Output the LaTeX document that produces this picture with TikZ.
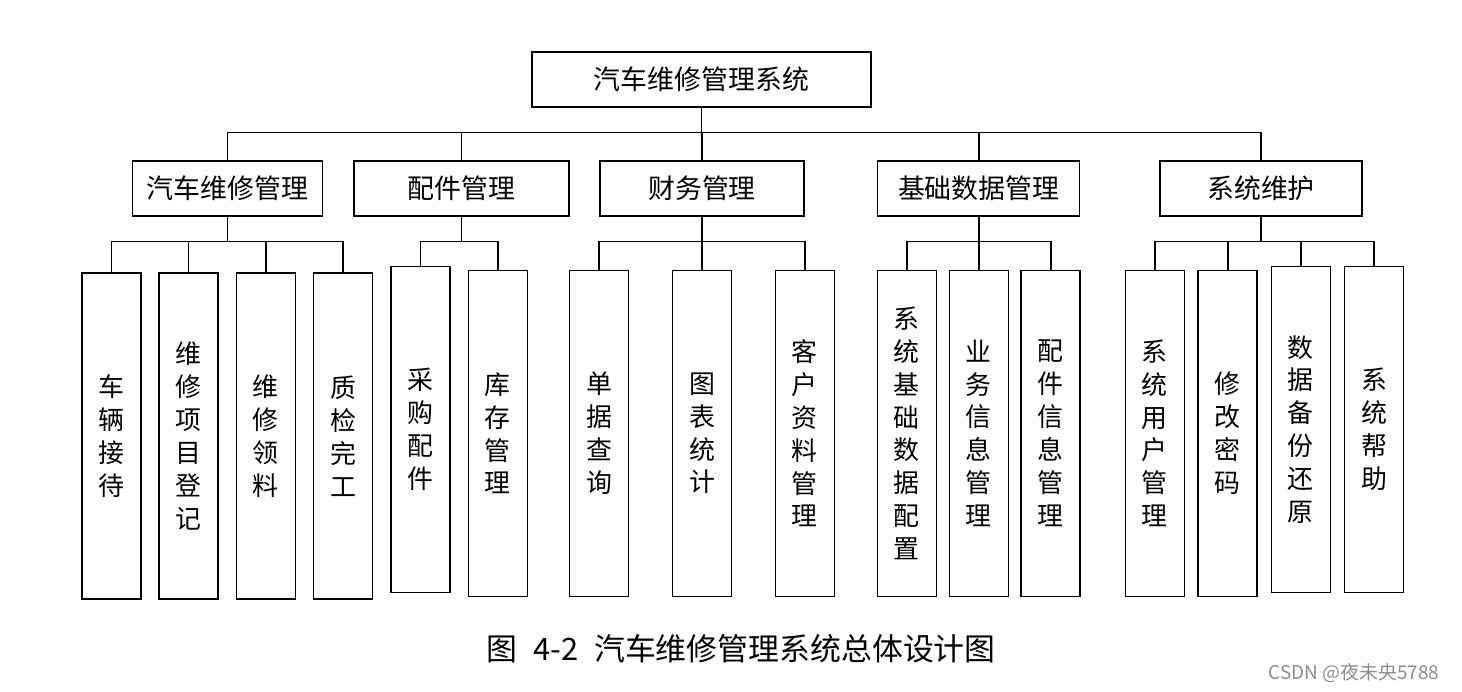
\documentclass[tikz,border=0pt]{standalone}
\usepackage{fontspec}
\newfontfamily\cjk{Noto Sans CJK SC}

\tikzset{
  topbox/.style={draw, line width=1.5bp, minimum width=339bp, minimum height=55bp,
    inner sep=0pt, font=\cjk\fontsize{27}{27}\selectfont},
  modbox/.style={draw, line width=1.5bp, minimum height=55bp,
    inner sep=0pt, font=\cjk\fontsize{27}{27}\selectfont},
  leafbox/.style={draw, line width=1.5bp, minimum width=59bp, minimum height=326bp,
    inner sep=0pt, align=center, font=\cjk\fontsize{26}{33}\selectfont},
  link/.style={line width=1.6bp},
}

\begin{document}
\begin{tikzpicture}[x=1bp,y=-1bp]
\useasboundingbox (0,0) rectangle (1462,692);

% Node: root
\node[topbox] (root) at (701.5,79.5) {汽车维修管理系统};

% Nodes: modules
\node[modbox, minimum width=190bp] (m1) at (227.5,188.5) {汽车维修管理};
\node[modbox, minimum width=215bp] (m2) at (461.5,188.5) {配件管理};
\node[modbox, minimum width=204bp] (m3) at (702,188.5) {财务管理};
\node[modbox, minimum width=202bp] (m4) at (978.7,188.5) {基础数据管理};
\node[modbox, minimum width=202bp] (m5) at (1261,188.5) {系统维护};

% Nodes: leaves of m1
\node[leafbox] (a1) at (111.4,436) {车\\辆\\接\\待};
\node[leafbox] (a2) at (188.5,436) {维\\修\\项\\目\\登\\记};
\node[leafbox] (a3) at (265.8,436) {维\\修\\领\\料};
\node[leafbox] (a4) at (343.2,436) {质\\检\\完\\工};

% Nodes: leaves of m2
\node[leafbox] (b1) at (420.5,429.4) {采\\购\\配\\件};
\node[leafbox] (b2) at (497.8,433.3) {库\\存\\管\\理};

% Nodes: leaves of m3
\node[leafbox] (c1) at (599,433.3) {单\\据\\查\\询};
\node[leafbox] (c2) at (702.2,433.3) {图\\表\\统\\计};
\node[leafbox] (c3) at (804.8,433.3) {客\\户\\资\\料\\管\\理};

% Nodes: leaves of m4
\node[leafbox] (d1) at (906.8,433.3) {系\\统\\基\\础\\数\\据\\配\\置};
\node[leafbox] (d2) at (978.8,433.3) {业\\务\\信\\息\\管\\理};
\node[leafbox] (d3) at (1050.7,433.3) {配\\件\\信\\息\\管\\理};

% Nodes: leaves of m5
\node[leafbox] (e1) at (1154.8,433.3) {系\\统\\用\\户\\管\\理};
\node[leafbox] (e2) at (1227.7,433.3) {修\\改\\密\\码};
\node[leafbox] (e3) at (1300.9,429.4) {数\\据\\备\\份\\还\\原};
\node[leafbox] (e4) at (1374.2,429.4) {系\\统\\帮\\助};

% Edges: root -> modules
\foreach \m in {m1,m2,m3,m4,m5}
  \draw[link] (root.south) -- ++(0,24.7) -| (\m.north);

% Edges: modules -> leaves
\foreach \p/\c in {m1/a1,m1/a2,m1/a3,m1/a4,m2/b1,m2/b2,m3/c1,m3/c2,m3/c3,
                   m4/d1,m4/d2,m4/d3,m5/e1,m5/e2,m5/e3,m5/e4}
  \draw[link] (\p.south) -- ++(0,24.7) -| (\c.north);

% Caption
\node[font=\cjk\fontsize{31}{31}\selectfont] (caption) at (741,649)
  {图\hspace{16bp}4-2\hspace{16bp}汽车维修管理系统总体设计图};
\node[font=\cjk\fontsize{19}{19}\selectfont, text=black!45] (mark) at (1354,673)
  {CSDN @夜未央5788};

\end{tikzpicture}
\end{document}
